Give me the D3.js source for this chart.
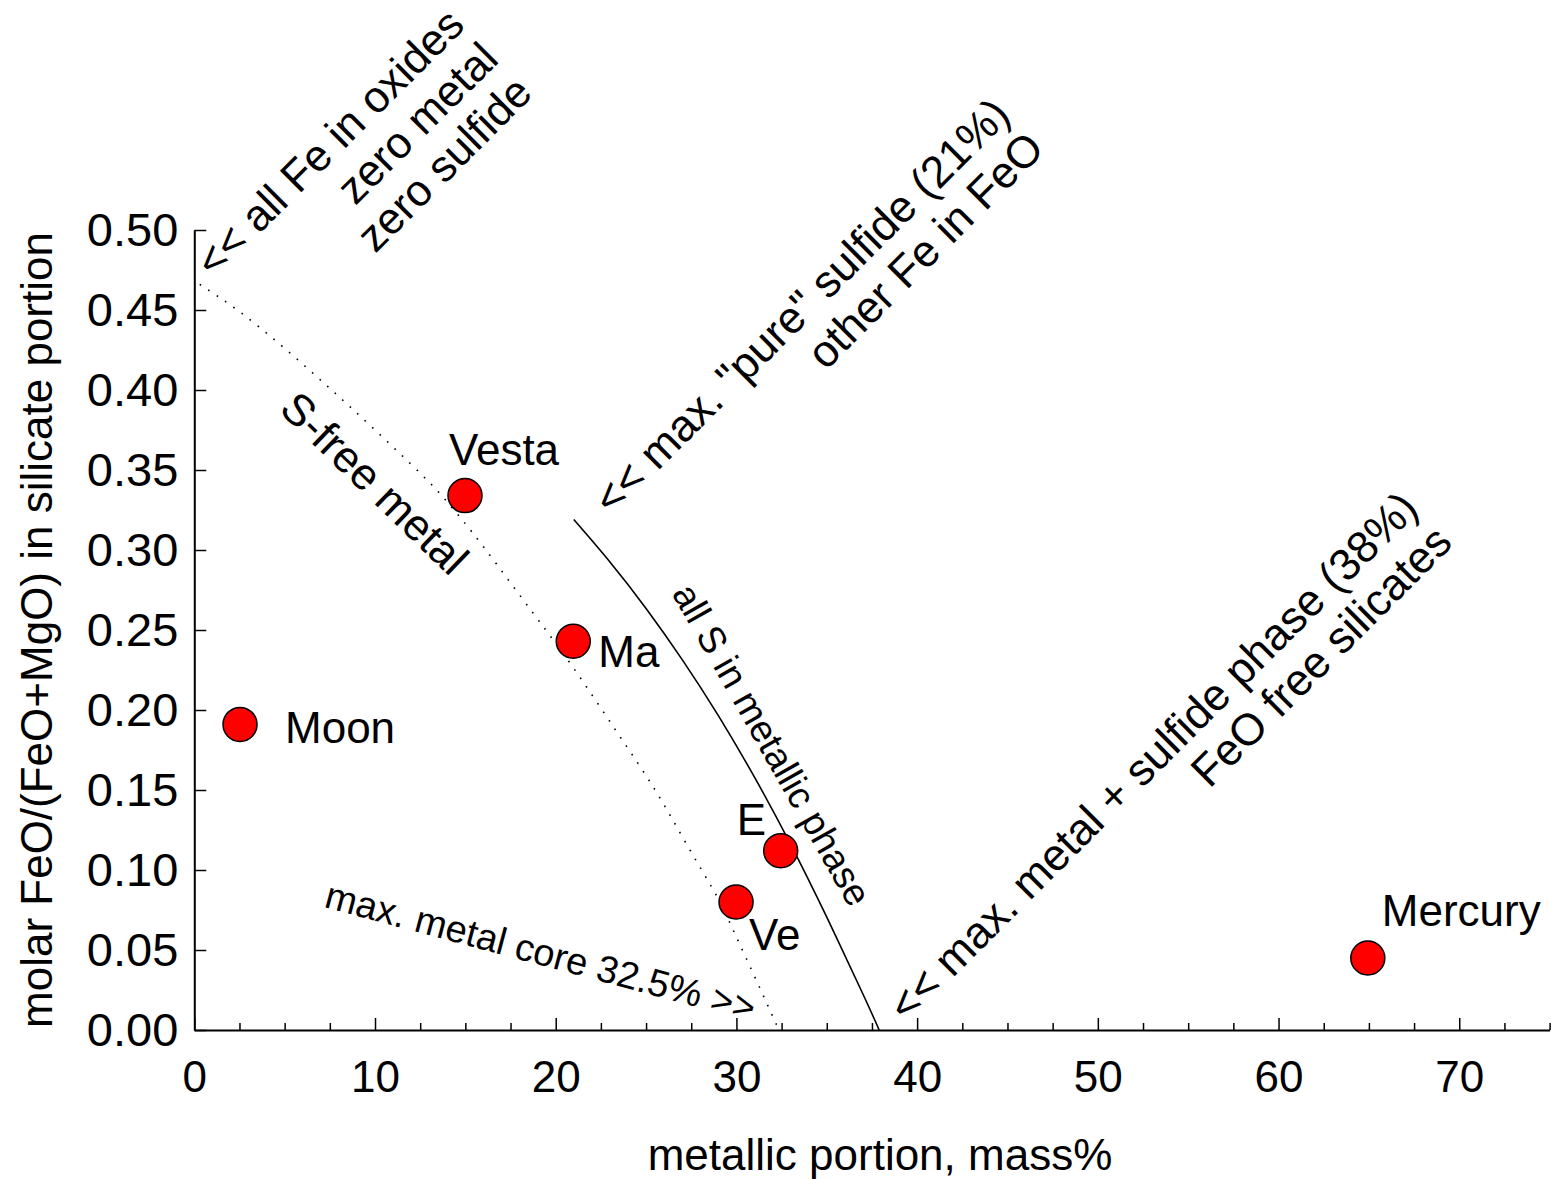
<!DOCTYPE html>
<html>
<head>
<meta charset="utf-8">
<script src="https://cdn.jsdelivr.net/npm/d3@7"></script>
<style>
  body { margin: 0; background: #fff; }
  svg text { font-family: "Liberation Sans", Arial, Helvetica, sans-serif; fill: #000; }
</style>
</head>
<body>
<svg id="chart" width="1553" height="1179"></svg>
<script>
// Planetary bodies: metallic portion (mass%) vs molar FeO/(FeO+MgO) in silicates
const bodies       = ["Moon", "Vesta", "Ma", "E", "Ve", "Mercury"];
const metalPortion = [2.53, 14.98, 20.97, 32.45, 29.98, 64.94];
const feoRatio     = [0.191, 0.334, 0.243, 0.112, 0.080, 0.045];

// Tick values
const xMajorTicks = [0, 10, 20, 30, 40, 50, 60, 70];
const xMinorTicks = [2.5, 5, 7.5, 12.5, 15, 17.5, 22.5, 25, 27.5, 32.5, 35, 37.5,
                     42.5, 45, 47.5, 52.5, 55, 57.5, 62.5, 65, 67.5, 72.5, 75];
const yTicks = [0, 0.05, 0.10, 0.15, 0.20, 0.25, 0.30, 0.35, 0.40, 0.45, 0.50];

// S-free metal limit (dotted curve): [metal mass%, FeO ratio]
const sFreeMetal = [
  [0.3, 0.466], [2.5, 0.449], [5, 0.426], [7.5, 0.401], [10, 0.375], [12.5, 0.348],
  [14, 0.330], [16, 0.302], [18.85, 0.259], [21, 0.226], [23.4, 0.186], [25.5, 0.150],
  [27.25, 0.116], [28.9, 0.084], [29.6, 0.068], [30.9, 0.036], [32.35, 0.0]
];

// All S in metallic phase (solid curve)
const allSInMetal = [
  [21.0, 0.319], [23, 0.2925], [25, 0.2635], [27, 0.2315], [29, 0.1965], [31, 0.158],
  [33, 0.116], [35, 0.0705], [37, 0.0225], [37.9, 0.0]
];

// Label placement around each marker (px offsets of the text start / baseline)
const labelOffset = {
  Moon: [45, 19], Vesta: [-16, -31], Ma: [25, 26], E: [-44, -16], Ve: [13, 48], Mercury: [14, -32]
};

const svg = d3.select("#chart");
const x = d3.scaleLinear().domain([0, 75]).range([194.3, 1549.6]);
const y = d3.scaleLinear().domain([0, 0.5]).range([1030, 230]);

// X axis: major ticks every 10, minor ticks every 2.5, ticks pointing inward
const xMinor = svg.append("g").attr("transform", `translate(0,${y(0)})`)
  .call(d3.axisBottom(x).tickValues(xMinorTicks).tickSizeInner(-7).tickSizeOuter(0).tickFormat(""))
  .call(g => g.select(".domain").remove());
const xMajor = svg.append("g").attr("transform", `translate(0,${y(0)})`)
  .call(d3.axisBottom(x).tickValues(xMajorTicks).tickSizeInner(-12).tickSizeOuter(0)
    .tickPadding(31).tickFormat(d3.format("d")));
xMinor.selectAll("line").attr("stroke", "#000").attr("stroke-width", 1.5);
xMajor.selectAll("line").attr("stroke", "#000").attr("stroke-width", 1.5);
xMajor.select(".domain").attr("stroke", "#000").attr("stroke-width", 2);
xMajor.selectAll("text").attr("font-size", 44).attr("font-family", null);

// Y axis
const yAxisG = svg.append("g").attr("transform", `translate(${x(0)},0)`)
  .call(d3.axisLeft(y).tickValues(yTicks).tickSizeInner(-12).tickSizeOuter(0)
    .tickPadding(16).tickFormat(d3.format(".2f")));
yAxisG.selectAll("line").attr("stroke", "#000").attr("stroke-width", 1.5);
yAxisG.select(".domain").attr("stroke", "#000").attr("stroke-width", 2);
yAxisG.selectAll("text").attr("font-size", 47).attr("font-family", null);

// Axis titles
svg.append("text")
  .attr("x", 880).attr("y", 1170)
  .attr("text-anchor", "middle").attr("font-size", 44)
  .text("metallic portion, mass%");
svg.append("text")
  .attr("transform", `translate(52,${(y(0) + y(0.5)) / 2}) rotate(-90)`)
  .attr("text-anchor", "middle").attr("font-size", 44)
  .text("molar FeO/(FeO+MgO) in silicate portion");

// Limit curves
const line = d3.line().x(d => x(d[0])).y(d => y(d[1])).curve(d3.curveNatural);
svg.append("path").datum(sFreeMetal)
  .attr("d", line).attr("fill", "none").attr("stroke", "#000")
  .attr("stroke-width", 1.6).attr("stroke-dasharray", "1.6,8.6");
svg.append("path").datum(allSInMetal)
  .attr("d", line).attr("fill", "none").attr("stroke", "#000").attr("stroke-width", 1.6);

// Rotated annotations: first line starts at the anchor, further lines end where it ends
function annotate(ax, ay, angle, lines, size, lineGap) {
  const g = svg.append("g")
    .attr("transform", `translate(${x(ax)},${y(ay)}) rotate(${angle})`);
  const first = g.append("text").attr("font-size", size).text(lines[0]);
  const w = first.node().getComputedTextLength();
  lines.slice(1).forEach((t, i) => {
    g.append("text").attr("x", w).attr("y", (i + 1) * lineGap)
      .attr("text-anchor", "end").attr("font-size", size).text(t);
  });
}
annotate(1.09, 0.469, -45, ["<< all Fe in oxides", "zero metal", "zero sulfide"], 44, 48);
annotate(23.12, 0.3206, -45, ["<< max. \"pure\" sulfide (21%)", "other Fe in FeO"], 44.5, 48);
annotate(39.44, 0.0038, -45, ["<< max. metal + sulfide phase (38%)", "FeO free silicates"], 44.5, 48);

// Curve labels
svg.append("text")
  .attr("transform", `translate(${x(9.39)},${y(0.335)}) rotate(44)`)
  .attr("text-anchor", "middle").attr("font-size", 44).text("S-free metal");
svg.append("text")
  .attr("transform", `translate(${x(26.4)},${y(0.273)}) rotate(60.5)`)
  .attr("font-size", 37.5).text("all S in metallic phase");
svg.append("text")
  .attr("transform", `translate(${x(7.12)},${y(0.077)}) rotate(15)`)
  .attr("font-size", 38).text("max. metal core 32.5% >>");

// Markers
const pts = bodies.map((b, i) => ({ name: b, m: metalPortion[i], f: feoRatio[i] }));
svg.append("g").selectAll("circle").data(pts).join("circle")
  .attr("cx", d => x(d.m)).attr("cy", d => y(d.f)).attr("r", 17)
  .attr("fill", "#ff0000").attr("stroke", "#000").attr("stroke-width", 1.5);
svg.append("g").selectAll("text").data(pts).join("text")
  .attr("x", d => x(d.m) + labelOffset[d.name][0])
  .attr("y", d => y(d.f) + labelOffset[d.name][1])
  .attr("font-size", 44).text(d => d.name);
</script>
</body>
</html>
